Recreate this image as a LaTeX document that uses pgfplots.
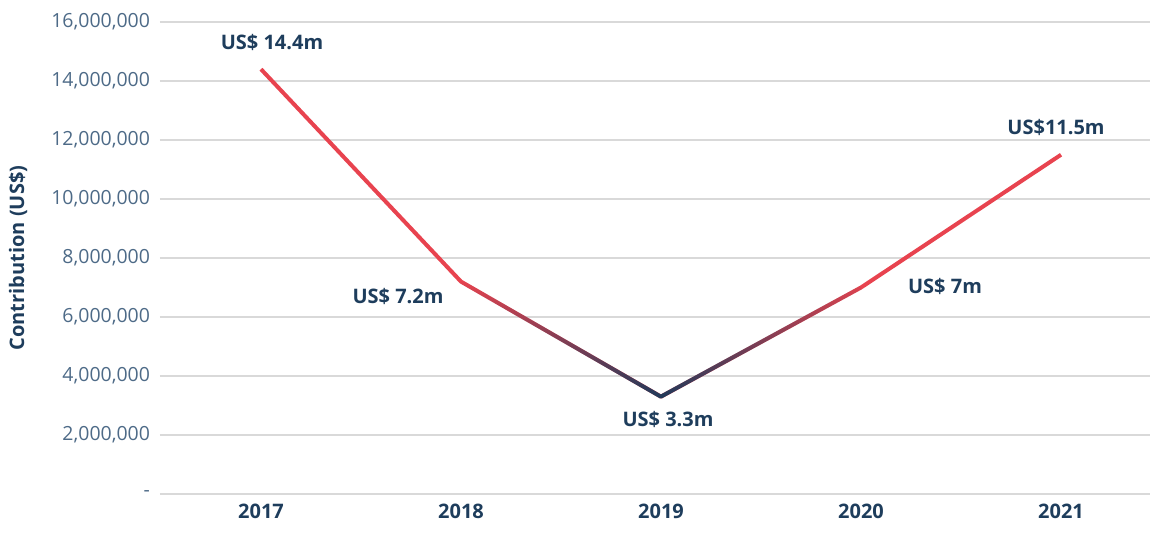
\documentclass[border=0pt]{standalone}
\usepackage{fontspec}
\setmainfont{Open Sans}
\usepackage{pgfplots}
\pgfplotsset{compat=1.18}
\usetikzlibrary{fadings}
\definecolor{navytxt}{HTML}{1E3D5C}
\definecolor{ticktxt}{HTML}{4D6A87}
\definecolor{lred}{HTML}{E8434F}
\definecolor{lnavy}{HTML}{1E3A5A}
\definecolor{gridc}{HTML}{D9D9D9}
\tikzfading[name=vfade, top color=transparent!100, bottom color=transparent!0]
\begin{document}
\begin{tikzpicture}[x=1pt,y=1pt]
\def\px{0.75pt}
\begin{axis}[
  scale only axis,
  width=742.5pt, height=354pt,
  xmin=-0.505, xmax=4.445,
  ymin=0, ymax=16000000,
  scaled y ticks=false,
  clip=false,
  axis line style={draw=none},
  major tick style={draw=none},
  ymajorgrids,
  grid style={gridc, line width=1.2pt},
  xtick={0,1,2,3,4},
  xticklabels={2017,2018,2019,2020,2021},
  ytick={0,2000000,4000000,6000000,8000000,10000000,12000000,14000000,16000000},
  yticklabels={{-},{2,000,000},{4,000,000},{6,000,000},{8,000,000},{10,000,000},{12,000,000},{14,000,000},{16,000,000}},
  xticklabel style={font=\fontsize{15}{18}\selectfont\bfseries, text=navytxt, yshift=-4pt},
  yticklabel style={font=\fontsize{14.6}{17}\selectfont, text=ticktxt, xshift=-4pt},
]
\addplot[draw=lred, line width=3pt, line join=round, mark=none] coordinates {
  (0,14400000) (1,7200000) (2,3300000) (3,7000000) (4,11500000)
};
\addplot[draw=lnavy, line width=3pt, line join=round, mark=none, path fading=vfade] coordinates {
  (1,7200000) (2,3300000) (3,7000000)
};
\coordinate (bl) at (rel axis cs:0,0);
\coordinate (tr) at (rel axis cs:1,1);
\begin{scope}[every node/.style={font=\fontsize{15}{18}\selectfont\bfseries, text=navytxt}]
\node at (axis cs:0.055,15290000) {US\$ 14.4m};
\node at (axis cs:0.685,6710000) {US\$ 7.2m};
\node at (axis cs:2.035,2510000) {US\$ 3.3m};
\node at (axis cs:3.42,7020000) {US\$ 7m};
\node at (axis cs:3.975,12410000) {US\$11.5m};
\node[rotate=90] at (axis cs:-1.215,8000000) {Contribution (US\$)};
\end{scope}
\end{axis}
\pgfresetboundingbox
\path[use as bounding box] ([xshift=-160*\px, yshift=-38*\px]bl) rectangle ([xshift=6*\px, yshift=22*\px]tr);
\end{tikzpicture}
\end{document}
